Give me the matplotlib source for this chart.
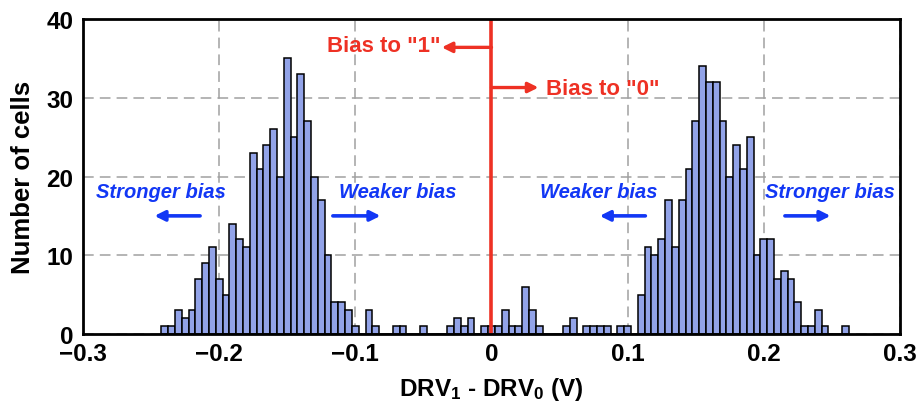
import numpy as np
import matplotlib
matplotlib.use("Agg")
import matplotlib.pyplot as plt

# ---- data ----
bin_width = 0.005
bin_first_center = -0.24
counts = [
    1, 1, 3, 2, 3, 7, 9, 11, 7, 5,          # -0.240 .. -0.195
    14, 12, 11, 23, 21, 24, 26, 20, 35, 25,  # -0.190 .. -0.145
    33, 27, 20, 17, 10, 4, 4, 3, 1, 0,       # -0.140 .. -0.095
    3, 1, 0, 0, 1, 1, 0, 0, 1, 0,            # -0.090 .. -0.045
    0, 0, 1, 2, 1, 2, 0, 1, 1, 1,            # -0.040 .. 0.005
    3, 1, 1, 6, 3, 1, 0, 0, 0, 1,            # 0.010 .. 0.055
    2, 0, 1, 1, 1, 1, 0, 1, 1, 0,            # 0.060 .. 0.105
    5, 11, 10, 12, 17, 11, 17, 21, 27, 34,   # 0.110 .. 0.155
    32, 32, 27, 20, 24, 21, 25, 10, 12, 12,  # 0.160 .. 0.205
    7, 8, 7, 4, 1, 1, 3, 1, 0, 0,            # 0.210 .. 0.255
    1,                                       # 0.260
]
bin_centers = np.round(bin_first_center + bin_width * np.arange(len(counts)), 4)

x_ticks = [-0.3, -0.2, -0.1, 0, 0.1, 0.2, 0.3]
x_tick_labels = ["\u22120.3", "\u22120.2", "\u22120.1", "0", "0.1", "0.2", "0.3"]
y_ticks = [0, 10, 20, 30, 40]

plt.rcParams['font.family'] = ['Liberation Sans', 'DejaVu Sans']
plt.rcParams['font.weight'] = 'bold'
plt.rcParams['mathtext.fontset'] = 'custom'
plt.rcParams['mathtext.rm'] = 'Liberation Sans:bold'
plt.rcParams['mathtext.bf'] = 'Liberation Sans:bold'
plt.rcParams['mathtext.it'] = 'Liberation Sans:bold:italic'

fig = plt.figure(figsize=(9.19, 4.02), dpi=100)
ax = fig.add_axes([0.0903, 0.1667, 0.8890, 0.7835])

ax.bar(bin_centers, counts, width=bin_width, color='#92a3e8',
       edgecolor='black', linewidth=1.1, zorder=3)

ax.set_xlim(-0.3, 0.3)
ax.set_ylim(0, 40)
ax.set_xticks(x_ticks)
ax.set_xticklabels(x_tick_labels)
ax.set_yticks(y_ticks)
ax.tick_params(axis='both', length=0, labelsize=17.5)
ax.tick_params(axis='x', pad=6)
ax.tick_params(axis='y', pad=7)
for lab in ax.get_xticklabels() + ax.get_yticklabels():
    lab.set_fontweight('bold')

ax.grid(True, color='#a0a0a0', linestyle=(0, (7, 4)), linewidth=1.1, zorder=0)
ax.set_axisbelow(True)
for sp in ax.spines.values():
    sp.set_linewidth(2.0)
    sp.set_zorder(5)

ax.set_ylabel("Number of cells", fontsize=18.5, fontweight='bold', labelpad=8)
ax.set_xlabel(r"DRV$_{1}$ - DRV$_{0}$ (V)", fontsize=17.5, fontweight='bold', labelpad=7)

# red divider and annotations
red = '#ee3124'
ax.axvline(0, color=red, linewidth=2.6, zorder=4)
ax.annotate("", xy=(-0.0365, 36.4), xytext=(0, 36.4),
            arrowprops=dict(arrowstyle='-|>,head_length=0.6,head_width=0.3',
                            color=red, lw=2.4, shrinkA=0, shrinkB=0), zorder=4)
ax.text(-0.0375, 35.9, 'Bias to "1"', color=red, fontsize=16, fontweight='bold',
        ha='right', va='baseline')
ax.annotate("", xy=(0.0345, 31.3), xytext=(0, 31.3),
            arrowprops=dict(arrowstyle='-|>,head_length=0.6,head_width=0.3',
                            color=red, lw=2.4, shrinkA=0, shrinkB=0), zorder=4)
ax.text(0.040, 30.5, 'Bias to "0"', color=red, fontsize=16, fontweight='bold',
        ha='left', va='baseline')

# blue annotations
blue = '#1237f5'
blue_texts = [
    ("Stronger bias", -0.2425, -0.214, -0.2475),
    ("Weaker bias", -0.0685, -0.1165, -0.0815),
    ("Weaker bias", 0.079, 0.1130, 0.0795),
    ("Stronger bias", 0.2485, 0.2155, 0.2490),
]
for label, xc, x_tail, x_head in blue_texts:
    ax.text(xc, 17.4, label, color=blue, fontsize=14.5, fontweight='bold',
            fontstyle='italic', ha='center', va='baseline', zorder=6)
    ax.annotate("", xy=(x_head, 15.0), xytext=(x_tail, 15.0),
                arrowprops=dict(arrowstyle='-|>,head_length=0.6,head_width=0.3',
                                color=blue, lw=2.6, shrinkA=0, shrinkB=0), zorder=6)

fig.savefig("out.png", dpi=100)
